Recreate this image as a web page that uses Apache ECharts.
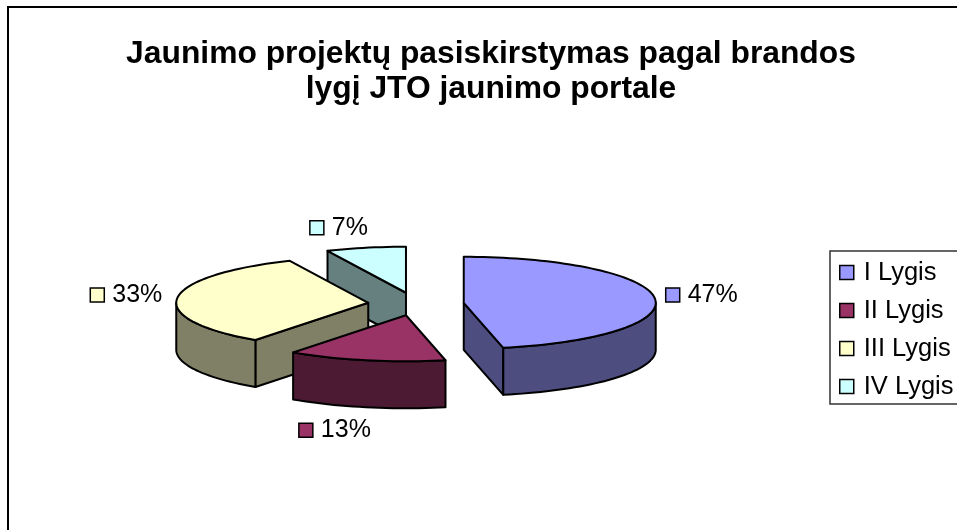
<!DOCTYPE html>
<html><head><meta charset="utf-8">
<script src="https://cdn.jsdelivr.net/npm/echarts@6/dist/echarts.min.js"></script>
<style>html,body{margin:0;padding:0;background:#fff}#c{width:957px;height:530px}</style>
</head><body><div id="c"></div>
<script>
const categories = ['I Lygis','II Lygis','III Lygis','IV Lygis'];
const values = [46.7,13.3,33.3,6.7];
const topColors = ['#9999FF','#993366','#FFFFCC','#CCFFFF'];
const sideColors = ['#4D4D80','#4D1A33','#808066','#668080'];
const titleText = 'Jaunimo projektų pasiskirstymas pagal brandos\nlygį JTO jaunimo portale';

// layout of the projected pie
const CX = 416, CY = 304, RX = 192, RY = 46, DEPTH = 47, EXPLODE = 48;
const FONT = '"Liberation Sans", Arial, sans-serif';
// label position relative to the slice rim point: [dx, dy] of label swatch left/centre
const labelOffsets = [[11,-3],[-67,70],[-87,-3],[-56,-20]];

const total = values.reduce((a,b)=>a+b,0);
const rad = d => d*Math.PI/180;
function ring(ax,ay,t){ return [ax+RX*Math.sin(rad(t)), ay-RY*Math.cos(rad(t))]; }
function arc(ax,ay,t0,t1,dy){
  const n = Math.max(2,Math.ceil(Math.abs(t1-t0)/2)), pts=[];
  for(let i=0;i<=n;i++){ const p=ring(ax,ay,t0+(t1-t0)*i/n); pts.push([p[0],p[1]+dy]); }
  return pts;
}
const lineStyle = (fill)=>({fill, stroke:'#000', lineWidth:2, lineJoin:'round'});

function makeRender(idx){
  return function(params, api){
    const v = api.value(0);
    let before = 0; for(let i=0;i<idx;i++) before += values[i];
    const t0 = before/total*360, t1 = (before+v)/total*360, mid=(t0+t1)/2;
    const ax = CX+EXPLODE*Math.sin(rad(mid)), ay = CY-EXPLODE*(RY/RX)*Math.cos(rad(mid));
    const children = [];
    const radialWall = (t)=>{
      const p=ring(ax,ay,t);
      children.push({type:'polygon',shape:{points:[[ax,ay],p,[p[0],p[1]+DEPTH],[ax,ay+DEPTH]]},style:lineStyle(sideColors[idx]),silent:true});
    };
    if(Math.sin(rad(t0))<-1e-6) radialWall(t0);
    if(Math.sin(rad(t1))>1e-6) radialWall(t1);
    const a0=Math.max(t0,90), a1=Math.min(t1,270);
    if(a1>a0){
      const pts=arc(ax,ay,a0,a1,0).concat(arc(ax,ay,a1,a0,DEPTH));
      children.push({type:'polygon',shape:{points:pts},style:lineStyle(sideColors[idx]),silent:true});
    }
    children.push({type:'polygon',shape:{points:[[ax,ay]].concat(arc(ax,ay,t0,t1,0))},style:lineStyle(topColors[idx])});
    // data label: swatch + percent
    const rim = ring(ax,ay,mid), off=labelOffsets[idx];
    const lx=rim[0]+off[0], ly=rim[1]+off[1];
    children.push({type:'rect',shape:{x:lx,y:ly-7,width:14,height:14},style:{fill:topColors[idx],stroke:'#000',lineWidth:1.5},silent:true});
    children.push({type:'text',style:{x:lx+22,y:ly,text:Math.round(v/total*100)+'%',fill:'#000',font:'25px '+FONT,textAlign:'left',textVerticalAlign:'middle'},silent:true});
    return {type:'group',children};
  };
}

// painter's order: back slices first
const drawOrder = [3,2,1,0];
const chart = echarts.init(document.getElementById('c'),null,{renderer:'canvas'});
chart.setOption({
  animation:false,
  backgroundColor:'#fff',
  title:{text:titleText,left:486,top:32,textAlign:'center',
    textStyle:{fontFamily:FONT,fontWeight:'bold',fontSize:31.8,lineHeight:35,color:'#000'}},
  legend:{data:categories,orient:'vertical',left:830,top:251,icon:'rect',
    itemWidth:14,itemHeight:14,itemGap:11,
    padding:[8,6,4,9],borderColor:'#333',borderWidth:1.5,backgroundColor:'#fff',
    selectedMode:false,
    itemStyle:{borderColor:'#000',borderWidth:1.5},
    textStyle:{fontFamily:FONT,fontSize:25.5,lineHeight:27,color:'#000',padding:[0,0,0,5]}},
  graphic:[{type:'rect',z:-1,shape:{x:8,y:7,width:1200,height:800},style:{fill:'none',stroke:'#000',lineWidth:2},silent:true}],
  series:drawOrder.map(i=>({
    type:'custom',name:categories[i],coordinateSystem:'none',
    itemStyle:{color:topColors[i]},
    renderItem:makeRender(i),
    data:[[values[i]]]
  }))
});
</script></body></html>
